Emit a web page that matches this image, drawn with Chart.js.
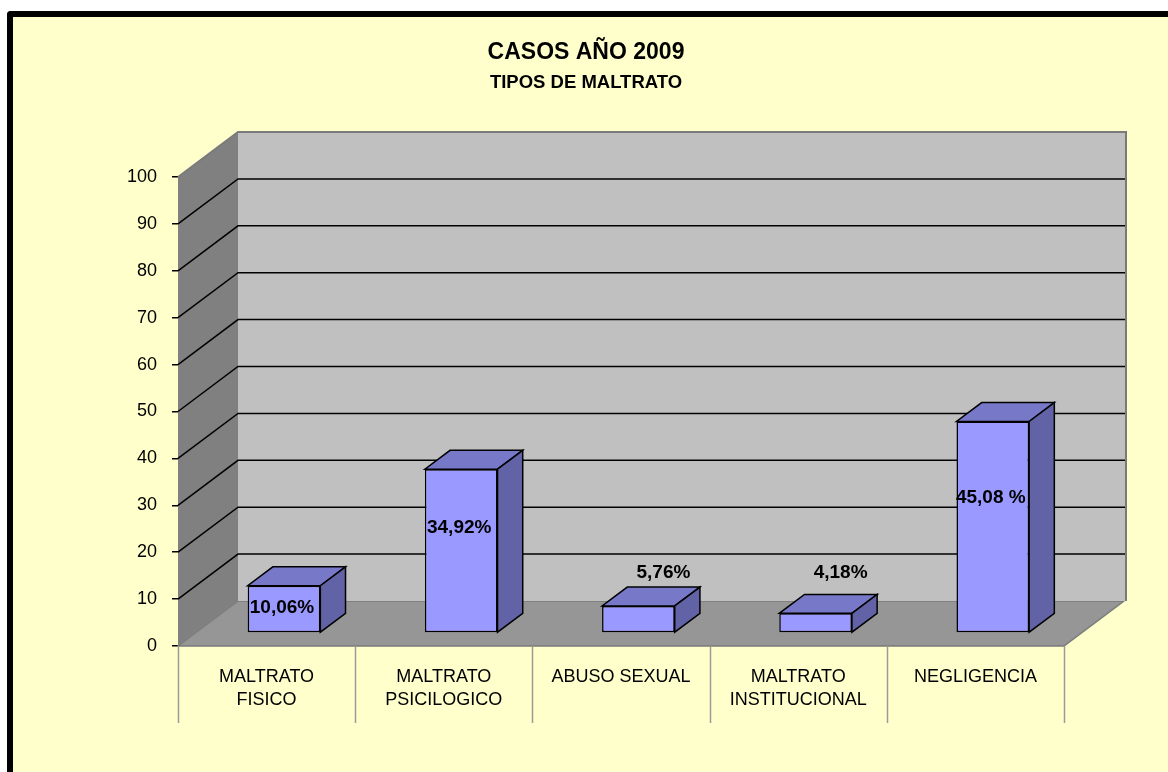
<!DOCTYPE html>
<html><head><meta charset="utf-8">
<script src="https://cdn.jsdelivr.net/npm/chart.js@4.4.1/dist/chart.umd.min.js"></script>
<style>
html,body{margin:0;padding:0;background:#fff;overflow:hidden;width:1168px;height:772px}
#panel{position:absolute;left:7px;top:11px;width:1200px;height:800px;background:#FFFFCC;border-left:6px solid #000;border-top:6px solid #000;border-top-left-radius:4px}
#c{position:absolute;left:0;top:0}
</style></head><body>
<div id="panel"></div>
<canvas id="c" width="1168" height="772"></canvas>
<script>
// ---- data ----
const categories = [['MALTRATO','FISICO'], ['MALTRATO','PSICILOGICO'], 'ABUSO SEXUAL', ['MALTRATO','INSTITUCIONAL'], 'NEGLIGENCIA'];
const percentages = [10.06, 34.92, 5.76, 4.18, 45.08];
const valueLabels = ['10,06%', '34,92%', '5,76%', '4,18%', '45,08 %'];
const yMin = 0, yMax = 100, yStep = 10;
const titleText = 'CASOS AÑO 2009';
const subtitleText = 'TIPOS DE MALTRATO';

// ---- style ----
const FONT = '"Liberation Sans", Arial, sans-serif';
const DX = 60, DY = -45;          // 3D depth of floor
const BAR_FRONT = 0.29, BAR_DEPTH = 0.42;
const C_BACK = '#C0C0C0', C_SIDE = '#808080', C_FLOOR = '#969696';
const C_FRONT = '#9999FF', C_TOP = '#7878C8', C_RIGHT = '#6262A6';

function poly(ctx, pts, fill, stroke, lw) {
  ctx.beginPath();
  pts.forEach((p, i) => i ? ctx.lineTo(p[0], p[1]) : ctx.moveTo(p[0], p[1]));
  ctx.closePath();
  if (fill) { ctx.fillStyle = fill; ctx.fill(); }
  if (stroke) { ctx.strokeStyle = stroke; ctx.lineWidth = lw || 1; ctx.stroke(); }
}

const threeD = {
  id: 'threeD',
  beforeDatasetsDraw(chart) {
    const {ctx, chartArea: a, scales: {y}} = chart;
    const y0 = y.getPixelForValue(yMin), yT = y.getPixelForValue(yMax);
    const L = a.left, R = a.right;
    ctx.save();
    // floor
    poly(ctx, [[L, y0], [R, y0], [R + DX, y0 + DY], [L + DX, y0 + DY]], C_FLOOR, '#7a7a7a', 1.5);
    // side wall
    poly(ctx, [[L, y0], [L, yT], [L + DX, yT + DY], [L + DX, y0 + DY]], C_SIDE, null);
    // back wall
    ctx.fillStyle = C_BACK;
    ctx.fillRect(L + DX, yT + DY, R - L + 2, y0 - yT);
    // gridlines
    ctx.strokeStyle = '#000'; ctx.lineWidth = 1.5;
    y.ticks.forEach(t => {
      if (t.value <= yMin || t.value >= yMax) return;
      const py = y.getPixelForValue(t.value);
      ctx.beginPath();
      ctx.moveTo(L, py); ctx.lineTo(L + DX, py + DY); ctx.lineTo(R + DX + 2, py + DY);
      ctx.stroke();
    });
    // wall edges
    ctx.strokeStyle = '#7a7a7a'; ctx.lineWidth = 2;
    ctx.beginPath();
    ctx.moveTo(L, yT); ctx.lineTo(L + DX, yT + DY); ctx.lineTo(R + DX + 2, yT + DY); ctx.lineTo(R + DX + 2, y0 + DY);
    ctx.stroke();
    ctx.restore();
    // shift bars to mid-depth
    ctx.save();
    ctx.translate(DX * BAR_FRONT, DY * BAR_FRONT);
  },
  afterDatasetsDraw(chart) {
    const {ctx} = chart;
    const meta = chart.getDatasetMeta(0);
    const bx = DX * BAR_DEPTH, by = DY * BAR_DEPTH;
    meta.data.forEach(bar => {
      const {x, y, base, width} = bar.getProps(['x', 'y', 'base', 'width'], true);
      const l = x - width / 2, r = x + width / 2;
      poly(ctx, [[l, y], [r, y], [r + bx, y + by], [l + bx, y + by]], C_TOP, '#000', 1.5);
      poly(ctx, [[r, y], [r, base], [r + bx, base + by], [r + bx, y + by]], C_RIGHT, '#000', 1.5);
    });
    ctx.restore();
    // value labels
    ctx.save();
    ctx.font = 'bold 19px ' + FONT;
    ctx.fillStyle = '#000';
    ctx.textAlign = 'center'; ctx.textBaseline = 'middle';
    meta.data.forEach((bar, i) => {
      const {x, y, base} = bar.getProps(['x', 'y', 'base'], true);
      const sx = x + DX * BAR_FRONT, sy = DY * BAR_FRONT;
      const h = base - y;
      if (percentages[i] >= 10) {
        ctx.fillText(valueLabels[i], sx - 2, base + sy - h * (h > 100 ? 0.64 : 0.52));
      } else {
        ctx.fillText(valueLabels[i], sx + 25, base + sy - 59);
      }
    });
    ctx.restore();
  },
  afterDraw(chart) {
    const {ctx, scales: {x, y}} = chart;
    const y0 = y.getPixelForValue(yMin);
    const cw = x.getPixelForValue(1) - x.getPixelForValue(0);
    ctx.save();
    ctx.strokeStyle = '#9a9a9a'; ctx.lineWidth = 1.5;
    for (let i = 0; i <= categories.length; i++) {
      const px = Math.round(x.getPixelForValue(0) - cw / 2 + i * cw) + 0.5;
      ctx.beginPath(); ctx.moveTo(px, y0); ctx.lineTo(px, y0 + 77); ctx.stroke();
    }
    // titles
    ctx.fillStyle = '#000'; ctx.textAlign = 'center'; ctx.textBaseline = 'middle';
    ctx.font = 'bold 23px ' + FONT;
    ctx.fillText(titleText, chart.width / 2 + 2, 53);
    ctx.font = 'bold 18.5px ' + FONT;
    ctx.fillText(subtitleText, chart.width / 2 + 2, 83);
    ctx.restore();
  }
};

new Chart(document.getElementById('c'), {
  type: 'bar',
  data: {
    labels: categories,
    datasets: [{
      data: percentages,
      backgroundColor: C_FRONT,
      borderColor: '#000',
      borderWidth: 1.5,
      borderSkipped: false,
      categoryPercentage: 1,
      barPercentage: 0.41,
      clip: false
    }]
  },
  options: {
    responsive: false,
    animation: false,
    layout: {padding: {top: 177, right: 104, bottom: 0, left: 0}},
    plugins: {legend: {display: false}, tooltip: {enabled: false}, title: {display: false}},
    scales: {
      x: {
        offset: true,
        grid: {display: true, drawOnChartArea: false, drawTicks: false},
        border: {display: false},
        ticks: {color: '#000', padding: 20, font: {family: FONT, size: 18, lineHeight: 1.25}, maxRotation: 0, autoSkip: false},
        afterFit(s) { s.height = 126; }
      },
      y: {
        min: yMin, max: yMax,
        grid: {display: true, drawOnChartArea: false, drawTicks: true, tickLength: 6, color: '#000', lineWidth: 1.5},
        border: {display: false},
        ticks: {stepSize: yStep, color: '#000', padding: 15, font: {family: FONT, size: 18}},
        afterFit(s) { s.width = 178; }
      }
    }
  },
  plugins: [threeD]
});
</script>
</body></html>
